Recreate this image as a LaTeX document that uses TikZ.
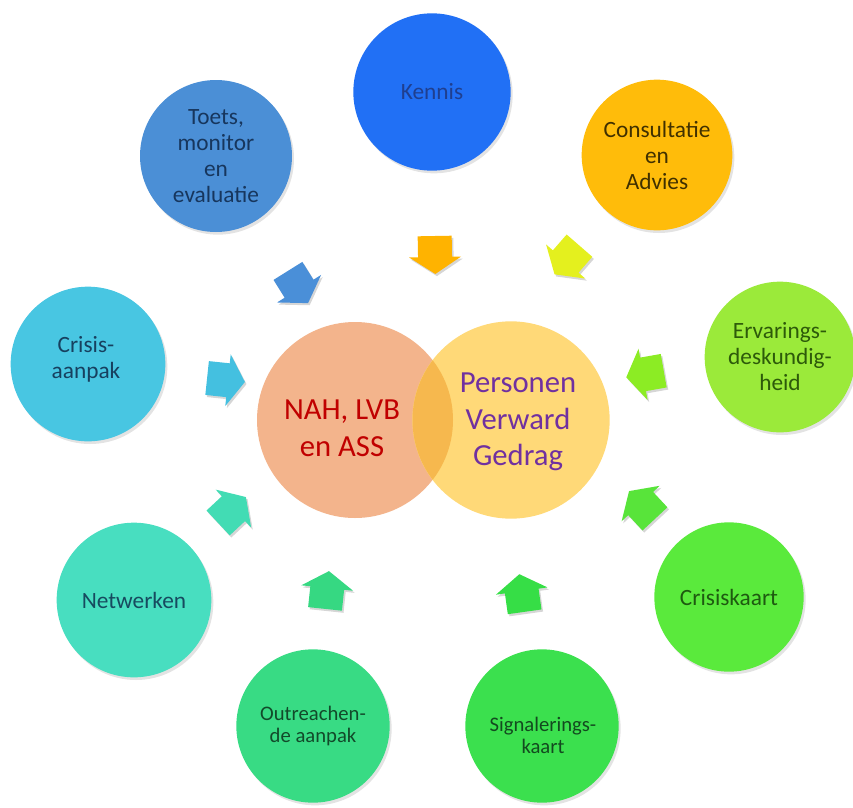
\documentclass[tikz,border=0pt]{standalone}
\usepackage{fontspec}
\setmainfont{Carlito}
\usetikzlibrary{shadows}
\definecolor{cKennis}{HTML}{2170F5}
\definecolor{cToets}{HTML}{4B8FD6}
\definecolor{cCons}{HTML}{FFBC0A}
\definecolor{cErv}{HTML}{9BEA3A}
\definecolor{cCkaart}{HTML}{5AEA3C}
\definecolor{cSign}{HTML}{3BE04E}
\definecolor{cOut}{HTML}{38DB84}
\definecolor{cNet}{HTML}{48DEC0}
\definecolor{cCaanp}{HTML}{48C6E2}
\definecolor{aBlue}{HTML}{4A8FD8}
\definecolor{aOrange}{HTML}{FFB300}
\definecolor{aYellow}{HTML}{E4F01E}
\definecolor{aLime}{HTML}{8CEC24}
\definecolor{aGreenA}{HTML}{58E43A}
\definecolor{aGreenB}{HTML}{36DE46}
\definecolor{aGreenC}{HTML}{36D882}
\definecolor{aTeal}{HTML}{42DCB4}
\definecolor{aCyan}{HTML}{44C0E0}
\definecolor{vLeft}{HTML}{F3B48C}
\definecolor{vRight}{HTML}{FFD978}
\definecolor{vMid}{HTML}{F6B84E}
\definecolor{tRed}{HTML}{C00000}
\definecolor{tPurple}{HTML}{7030A0}
\definecolor{tKennis}{HTML}{1F3F8F}
\definecolor{tToets}{HTML}{17365D}
\definecolor{tCons}{HTML}{403000}
\definecolor{tErv}{HTML}{2D5A0A}
\definecolor{tCkaart}{HTML}{1E5A10}
\definecolor{tSign}{HTML}{134A1F}
\definecolor{tOut}{HTML}{124A2A}
\definecolor{tNet}{HTML}{174A5F}
\definecolor{tCaanp}{HTML}{17405F}
\tikzset{
  bub/.style={circle, minimum size=#1, inner sep=0pt, align=center,
    drop shadow={opacity=0.22, shadow xshift=1.5pt, shadow yshift=-2pt}},
  lbl/.style={font=\fontsize{17.5}{19.5}\selectfont},
  lblsmall/.style={font=\fontsize{15.5}{16.5}\selectfont},
  venntext/.style={font=\fontsize{23}{27.5}\selectfont, align=center},
}
\newcommand\blockarrow[4]{%
  \fill[black, opacity=0.16, shift={(#1,#2)}, xshift=1.2pt, yshift=-1.6pt, rotate=#3]
    (-19,-17) -- (2,-17) -- (2,-26) -- (19,0) -- (2,26) -- (2,17) -- (-19,17) -- cycle;
  \fill[#4, shift={(#1,#2)}, rotate=#3]
    (-19,-17) -- (2,-17) -- (2,-26) -- (19,0) -- (2,26) -- (2,17) -- (-19,17) -- cycle;
}
\begin{document}
\begin{tikzpicture}[x=0.75pt,y=-0.75pt]
\useasboundingbox (0,0) rectangle (853,807);
% outer circles
\node[bub=118pt, fill=cKennis, lbl, text=tKennis] (kennis) at (432,92) {Kennis};
\node[bub=114pt, fill=cToets, lbl, text=tToets] (toets) at (216,156) {Toets,\\monitor\\en\\evaluatie};
\node[bub=113pt, fill=cCons, lbl, text=tCons] (cons) at (657,155) {Consultatie\\en\\Advies};
\node[bub=113pt, fill=cErv, lbl, text=tErv] (erv) at (780,357) {Ervarings-\\deskundig-\\heid};
\node[bub=112pt, fill=cCkaart, lbl, text=tCkaart] (ckaart) at (729,597) {Crisiskaart};
\node[bub=115pt, fill=cSign, text=tSign] (sign) at (542,726) {};
\node[lblsmall, text=tSign, align=center] (signt) at (543,735) {Signalerings-\\kaart};
\node[bub=115pt, fill=cOut, lblsmall, text=tOut] (out) at (313,726) {Outreachen-\\de aanpak};
\node[bub=116pt, fill=cNet, lbl, text=tNet] (net) at (134,600) {Netwerken};
\node[bub=116pt, fill=cCaanp, text=tCaanp] (caanp) at (88,364) {};
\node[lbl, text=tCaanp, align=center] (caanpt) at (86,359) {Crisis-\\aanpak};
% venn
\node[circle, minimum size=147pt, inner sep=0pt, fill=vLeft] (vl) at (355,420) {};
\node[circle, minimum size=148pt, inner sep=0pt, fill=vRight] (vr) at (511,420) {};
\begin{scope}
  \clip (355,420) circle[radius=98];
  \fill[vMid] (511,420) circle[radius=98.5];
\end{scope}
\node[venntext, text=tRed] (nah) at (342,428) {NAH, LVB\\en ASS};
\node[venntext, text=tPurple] (pvg) at (518,422) {Personen\\Verward\\Gedrag};
% arrows
\blockarrow{298}{287}{-58}{aBlue}
\blockarrow{435}{255}{-89}{aOrange}
\blockarrow{567}{260}{-131}{aYellow}
\blockarrow{645}{374}{190}{aLime}
\blockarrow{642}{505}{133}{aGreenA}
\blockarrow{522}{593}{98}{aGreenB}
\blockarrow{327}{590}{84}{aGreenC}
\blockarrow{232}{510}{43}{aTeal}
\blockarrow{226}{380}{-6}{aCyan}
\end{tikzpicture}
\end{document}
